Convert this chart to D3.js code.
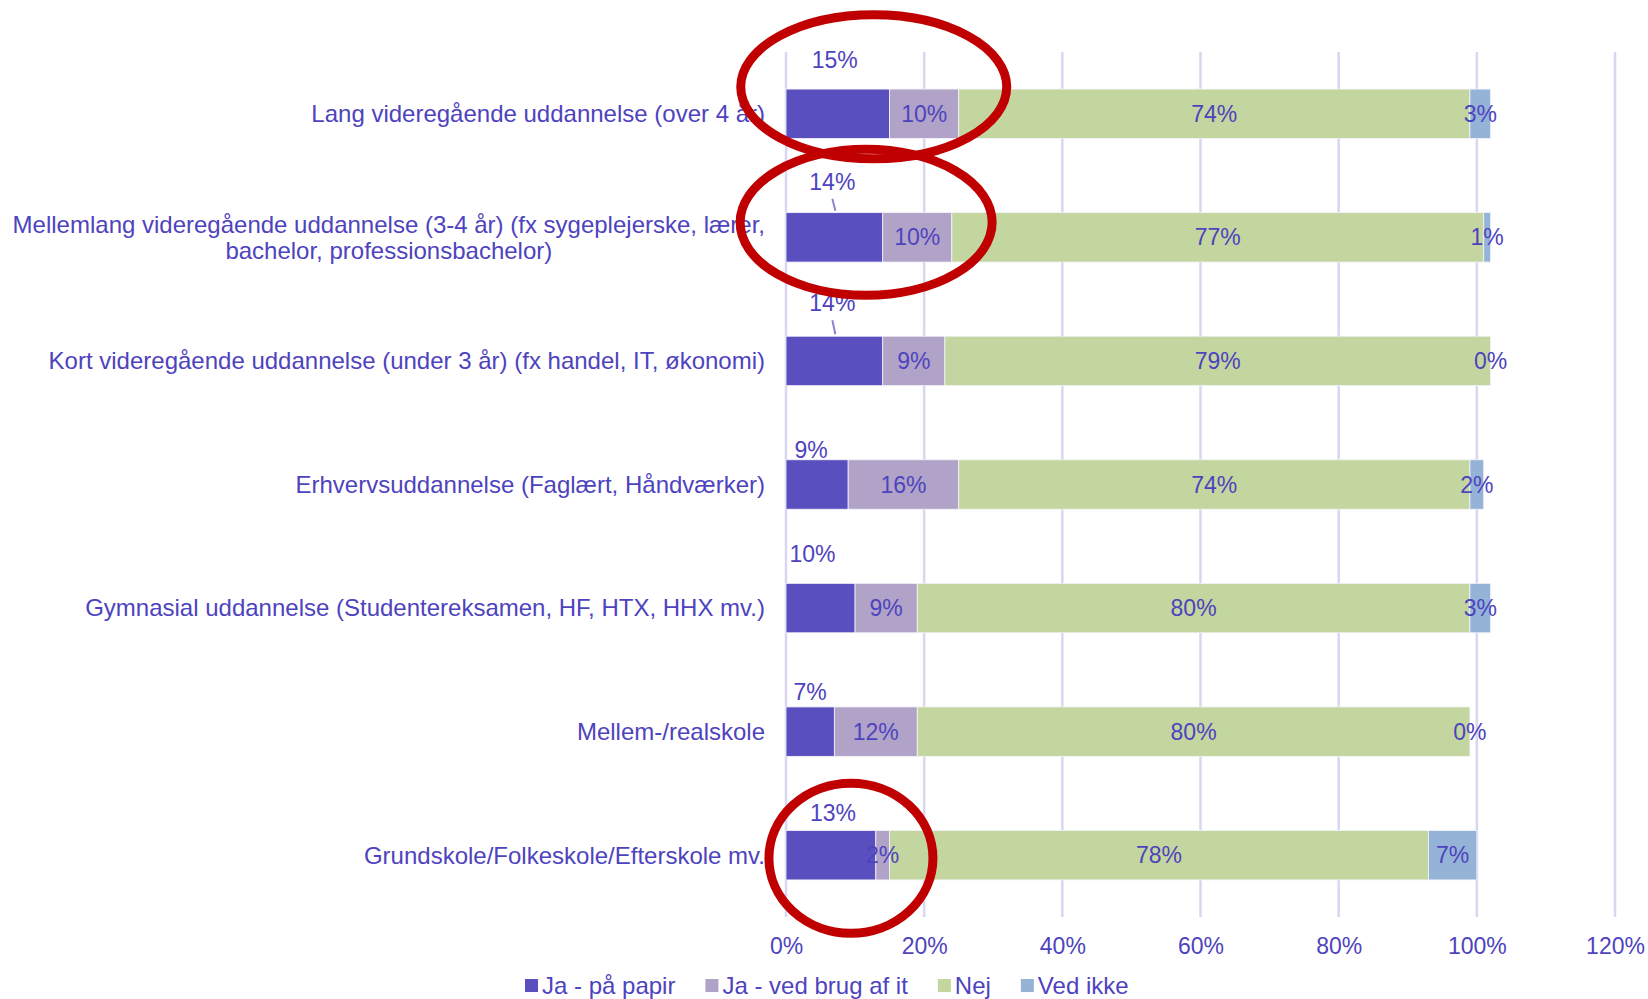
<!DOCTYPE html>
<html lang="da">
<head>
<meta charset="UTF-8">
<title>Uddannelse</title>
<script src="https://cdn.jsdelivr.net/npm/d3@7/dist/d3.min.js"></script>
<style>
  body { margin: 0; background: #fff; }
  svg text { font-family: "Liberation Sans", Arial, sans-serif; }
</style>
</head>
<body>
<div id="chart"></div>
<script>
// data
var categories = [
  'Lang videregående uddannelse (over 4 år)',
  'Mellemlang videregående uddannelse (3-4 år) (fx sygeplejerske, lærer, bachelor, professionsbachelor)',
  'Kort videregående uddannelse (under 3 år) (fx handel, IT, økonomi)',
  'Erhvervsuddannelse (Faglært, Håndværker)',
  'Gymnasial uddannelse (Studentereksamen, HF, HTX, HHX mv.)',
  'Mellem-/realskole',
  'Grundskole/Folkeskole/Efterskole mv.'
];
var seriesNames = ['Ja - på papir', 'Ja - ved brug af it', 'Nej', 'Ved ikke'];
var paaPapir   = [15, 14, 14, 9, 10, 7, 13];
var vedBrugAfIt = [10, 10, 9, 16, 9, 12, 2];
var nej        = [74, 77, 79, 74, 80, 80, 78];
var vedIkke    = [3, 1, 0, 2, 3, 0, 7];
var xTicks = [0, 0.2, 0.4, 0.6, 0.8, 1.0, 1.2];

// layout
var W = 1648, H = 999;
var plotLeft = 786, plotRight = 1615, plotTop = 52, plotBottom = 917;
var colors = ['#5A4FBF', '#B1A3C8', '#C4D69F', '#95B3D7'];
var textColor = '#4E43BE';
var valueFont = 23, catFont = 24;
// manual placement of the "Ja - på papir" labels above the bars
var paperLabelLift = [29, 31, 33, 10, 29, 15, 18];
var paperLabelShift = [-3, -2, -2, -6, -8, 0, 2];

var rows = categories.map(function(c, i) {
  return { cat: c, 'Ja - på papir': paaPapir[i] / 100, 'Ja - ved brug af it': vedBrugAfIt[i] / 100,
           'Nej': nej[i] / 100, 'Ved ikke': vedIkke[i] / 100 };
});
var stacked = d3.stack().keys(seriesNames)(rows);

var svg = d3.select('#chart').append('svg').attr('width', W).attr('height', H);

var x = d3.scaleLinear().domain([0, 1.2]).range([plotLeft, plotRight]);
var y = d3.scaleBand().domain(categories).range([plotTop, plotBottom]).paddingInner(0.6).paddingOuter(0.3);

// gridlines
svg.append('g').selectAll('line').data(xTicks).enter().append('line')
  .attr('x1', function(d) { return x(d); }).attr('x2', function(d) { return x(d); })
  .attr('y1', plotTop).attr('y2', plotBottom)
  .attr('stroke', '#D9D6F2').attr('stroke-width', 2.5);

// x axis
var xAxis = d3.axisBottom(x).tickValues(xTicks).tickFormat(d3.format('.0%')).tickSize(0).tickPadding(21);
var gx = svg.append('g').attr('transform', 'translate(0,' + plotBottom + ')').call(xAxis);
gx.select('.domain').remove();
gx.selectAll('text').attr('fill', textColor).style('font-size', valueFont + 'px')
  .style('font-family', '"Liberation Sans", Arial, sans-serif');

// bars
var layers = svg.append('g').selectAll('g').data(stacked).enter().append('g')
  .attr('fill', function(d, i) { return colors[i]; });
layers.selectAll('rect').data(function(d) { return d; }).enter().append('rect')
  .attr('x', function(d) { return x(d[0]); })
  .attr('y', function(d) { return y(d.data.cat); })
  .attr('width', function(d) { return x(d[1]) - x(d[0]); })
  .attr('height', y.bandwidth())
  .attr('stroke', '#F4F4FA').attr('stroke-width', 0.8);

// data labels
var labels = svg.append('g').style('font-size', valueFont + 'px').attr('fill', textColor);
stacked.forEach(function(layer, si) {
  layer.forEach(function(d, ci) {
    var val = Math.round((d[1] - d[0]) * 100) + '%';
    var cx = x((d[0] + d[1]) / 2);
    var cy = y(d.data.cat) + y.bandwidth() / 2;
    if (si === 0) {
      var lx = cx + paperLabelShift[ci];
      var ly = y(d.data.cat) - paperLabelLift[ci];
      labels.append('text').attr('x', lx).attr('y', ly).attr('dy', '0.35em')
        .attr('text-anchor', 'middle').text(val);
      if (paperLabelLift[ci] > 30) {
        svg.append('line')
          .attr('x1', lx).attr('y1', ly + 17)
          .attr('x2', lx + 3).attr('y2', y(d.data.cat) - 2)
          .attr('stroke', '#8C84D2').attr('stroke-width', 2);
      }
    } else {
      labels.append('text').attr('x', cx).attr('y', cy).attr('dy', '0.35em')
        .attr('text-anchor', 'middle').text(val);
    }
  });
});

// category labels (wrapped)
var catG = svg.append('g').style('font-size', catFont + 'px').attr('fill', textColor);
var labelRight = 765, maxW = 770, lineH = 26;
categories.forEach(function(c) {
  var t = catG.append('text').attr('text-anchor', 'middle');
  var words = c.split(' '), lines = [], line = [];
  var probe = catG.append('text');
  words.forEach(function(w) {
    line.push(w);
    probe.text(line.join(' '));
    if (probe.node().getComputedTextLength() > maxW && line.length > 1) {
      line.pop();
      lines.push(line.join(' '));
      line = [w];
    }
  });
  lines.push(line.join(' '));
  var widest = d3.max(lines, function(l) { probe.text(l); return probe.node().getComputedTextLength(); });
  probe.remove();
  var cx = labelRight - widest / 2;
  var cy = y(c) + y.bandwidth() / 2 - (lines.length - 1) * lineH / 2;
  lines.forEach(function(l, k) {
    t.append('tspan').attr('x', cx).attr('y', cy + k * lineH).attr('dy', '0.35em').text(l);
  });
});

// legend
var legend = svg.append('g').attr('transform', 'translate(525,986)')
  .style('font-size', catFont + 'px').attr('fill', textColor);
var legX = 0;
seriesNames.forEach(function(s, i) {
  var g = legend.append('g').attr('transform', 'translate(' + legX + ',0)');
  g.append('rect').attr('x', 0).attr('y', -7).attr('width', 13).attr('height', 13).attr('fill', colors[i]);
  var tx = g.append('text').attr('x', 17).attr('dy', '0.35em').text(s);
  legX += 17 + tx.node().getComputedTextLength() + 30;
});

// red highlight rings
var rings = [
  { cat: 0, at: 0.127, dy: -27, rx: 133, ry: 72 },
  { cat: 1, at: 0.116, dy: -15, rx: 126, ry: 73 },
  { cat: 6, at: 0.094, dy: 3, rx: 82, ry: 75 }
];
svg.append('g').selectAll('ellipse').data(rings).enter().append('ellipse')
  .attr('cx', function(d) { return x(d.at); })
  .attr('cy', function(d) { return y(categories[d.cat]) + y.bandwidth() / 2 + d.dy; })
  .attr('rx', function(d) { return d.rx; })
  .attr('ry', function(d) { return d.ry; })
  .attr('fill', 'none').attr('stroke', '#C00000').attr('stroke-width', 9);
</script>
</body>
</html>
